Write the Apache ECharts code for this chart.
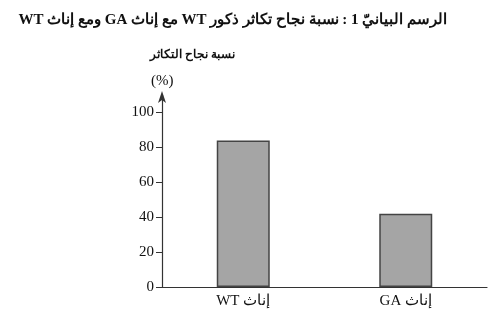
<!DOCTYPE html>
<html>
<head>
<meta charset="utf-8">
<script src="https://cdn.jsdelivr.net/npm/echarts@6/dist/echarts.min.js"></script>
<style>html,body{margin:0;padding:0;background:#fff}#c{width:499px;height:320px}</style>
</head>
<body>
<div id="c" dir="rtl"></div>
<script>
var titleText = 'الرسم البيانيّ 1 : نسبة نجاح تكاثر ذكور WT مع إناث GA ومع إناث WT';
var yAxisTitle = 'نسبة نجاح التكاثر';
var yAxisUnit = '(%)';
var categories = ['إناث WT', 'إناث GA'];
var successRate = [84, 42];
var yTicks = [0, 20, 40, 60, 80, 100];

var chart = echarts.init(document.getElementById('c'), null, {renderer: 'canvas'});
var serif = '"Liberation Serif", "DejaVu Serif", serif';
chart.setOption({
  animation: false,
  backgroundColor: '#fff',
  title: {
    text: titleText,
    right: 47,
    top: 8,
    textStyle: {fontFamily: serif, fontWeight: 'bold', fontSize: 15, color: '#111'}
  },
  graphic: [
    {type: 'text', left: 150, top: 49, style: {text: yAxisTitle, font: 'bold 12px ' + serif, fill: '#111'}},
    {type: 'text', left: 151, top: 74, style: {text: yAxisUnit, font: '15px ' + serif, fill: '#111'}}
  ],
  grid: {left: 162, right: 12, top: 95, bottom: 33},
  xAxis: {
    type: 'category',
    data: categories,
    axisLine: {lineStyle: {color: '#333', width: 1.2}},
    axisTick: {show: false},
    axisLabel: {fontFamily: serif, fontSize: 15, color: '#111', margin: 7}
  },
  yAxis: {
    type: 'value',
    min: 0,
    max: 110,
    interval: 20,
    splitLine: {show: false},
    axisLine: {show: true, symbol: ['none', 'arrow'], symbolSize: [6, 12], symbolOffset: [0, 4], lineStyle: {color: '#333', width: 1.2}},
    axisTick: {show: true, length: 6, customValues: yTicks, lineStyle: {color: '#333'}},
    axisLabel: {customValues: yTicks, fontFamily: serif, fontSize: 15, color: '#111', margin: 8}
  },
  series: [{
    type: 'bar',
    data: successRate,
    barWidth: 53,
    itemStyle: {color: '#a5a5a5', borderColor: '#444', borderWidth: 1.5}
  }]
});
</script>
</body>
</html>
